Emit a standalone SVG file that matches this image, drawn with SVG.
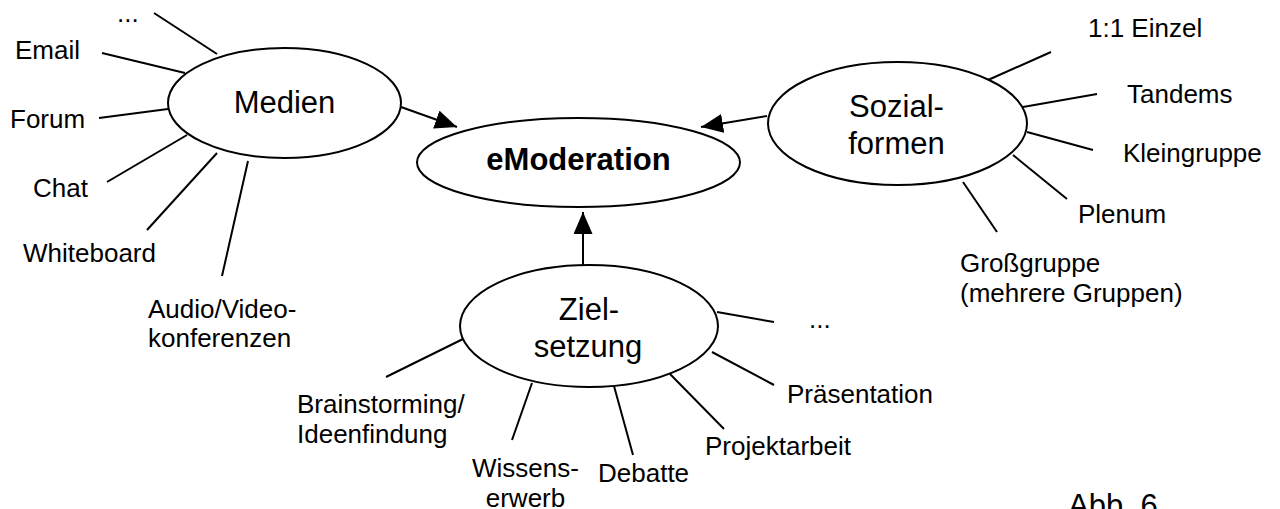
<svg xmlns="http://www.w3.org/2000/svg" width="1280" height="509" viewBox="0 0 1280 509">
<style>
  .bg { fill: #ffffff; }
  .node { fill: #ffffff; stroke: #000000; stroke-width: 2; }
  .spoke { stroke: #000000; stroke-width: 2; fill: none; }
  .conn { stroke: #000000; stroke-width: 2; fill: none; marker-end: url(#arrow); }
  .lbl { font-family: "Liberation Sans", Arial, sans-serif; font-size: 26px; fill: #000000; }
  .main { font-family: "Liberation Sans", Arial, sans-serif; font-size: 31px; fill: #000000; text-anchor: middle; }
  .bold { font-weight: bold; }
</style>
<defs>
  <marker id="arrow" viewBox="0 0 22 19" refX="22" refY="9.5" markerWidth="22" markerHeight="19" markerUnits="userSpaceOnUse" orient="auto">
    <path d="M0,0 L22,9.5 L0,19 z" fill="#000000"/>
  </marker>
</defs>
<rect class="bg" x="0" y="0" width="1280" height="509"/>

<g id="connectors">
  <line class="conn" x1="401" y1="107" x2="457" y2="127"/>
  <line class="conn" x1="767" y1="116" x2="701" y2="127"/>
  <line class="conn" x1="583" y1="265" x2="583" y2="212"/>
</g>

<g id="eModeration">
  <ellipse class="node" cx="578.5" cy="162.5" rx="161.5" ry="44.5"/>
  <text class="main bold" x="578.5" y="170">eModeration</text>
</g>

<g id="medien">
  <ellipse class="node" cx="284.5" cy="103" rx="116.5" ry="55"/>
  <text class="main" x="284.5" y="113">Medien</text>
  <g id="medien-spokes">
    <line class="spoke" x1="154" y1="13" x2="217" y2="54"/>
    <line class="spoke" x1="102" y1="53" x2="185" y2="73"/>
    <line class="spoke" x1="99" y1="118" x2="168" y2="109"/>
    <line class="spoke" x1="107" y1="182" x2="187" y2="135"/>
    <line class="spoke" x1="147" y1="230" x2="217" y2="153"/>
    <line class="spoke" x1="222" y1="276" x2="248" y2="161"/>
  </g>
  <text class="lbl" x="117" y="22">...</text>
  <text class="lbl" x="15" y="59">Email</text>
  <text class="lbl" x="10" y="128">Forum</text>
  <text class="lbl" x="33" y="197">Chat</text>
  <text class="lbl" x="23" y="262">Whiteboard</text>
  <text class="lbl" x="148" y="318">Audio/Video-</text>
  <text class="lbl" x="148" y="347">konferenzen</text>
</g>

<g id="sozialformen">
  <ellipse class="node" cx="897.5" cy="123.5" rx="129.5" ry="61.5"/>
  <text class="main" x="896.5" y="117">Sozial-</text>
  <text class="main" x="896.5" y="154">formen</text>
  <g id="sozial-spokes">
    <line class="spoke" x1="988" y1="80" x2="1051" y2="52"/>
    <line class="spoke" x1="1023" y1="107" x2="1097" y2="94"/>
    <line class="spoke" x1="1027" y1="132" x2="1093" y2="150"/>
    <line class="spoke" x1="1013" y1="155" x2="1067" y2="199"/>
    <line class="spoke" x1="963" y1="182" x2="997" y2="232"/>
  </g>
  <text class="lbl" x="1088" y="37">1:1 Einzel</text>
  <text class="lbl" x="1127" y="103">Tandems</text>
  <text class="lbl" x="1123" y="162">Kleingruppe</text>
  <text class="lbl" x="1078" y="223">Plenum</text>
  <text class="lbl" x="960" y="272">Großgruppe</text>
  <text class="lbl" x="960" y="302">(mehrere Gruppen)</text>
</g>

<g id="zielsetzung">
  <ellipse class="node" cx="589" cy="326" rx="129" ry="61"/>
  <text class="main" x="589" y="320">Ziel-</text>
  <text class="main" x="588" y="357">setzung</text>
  <g id="ziel-spokes">
    <line class="spoke" x1="463" y1="339" x2="386" y2="377"/>
    <line class="spoke" x1="532" y1="383" x2="512" y2="440"/>
    <line class="spoke" x1="614" y1="386" x2="633" y2="455"/>
    <line class="spoke" x1="670" y1="374" x2="724" y2="429"/>
    <line class="spoke" x1="712" y1="352" x2="774" y2="385"/>
    <line class="spoke" x1="717" y1="312" x2="774" y2="322"/>
  </g>
  <text class="lbl" x="297" y="413">Brainstorming/</text>
  <text class="lbl" x="297" y="443">Ideenfindung</text>
  <text class="lbl" x="525.5" y="477" text-anchor="middle">Wissens-</text>
  <text class="lbl" x="525.5" y="507" text-anchor="middle">erwerb</text>
  <text class="lbl" x="598" y="482">Debatte</text>
  <text class="lbl" x="705" y="455">Projektarbeit</text>
  <text class="lbl" x="787" y="403">Präsentation</text>
  <text class="lbl" x="809" y="328">...</text>
</g>

<text class="main" x="1113" y="516" text-anchor="start">Abb. 6</text>
</svg>
